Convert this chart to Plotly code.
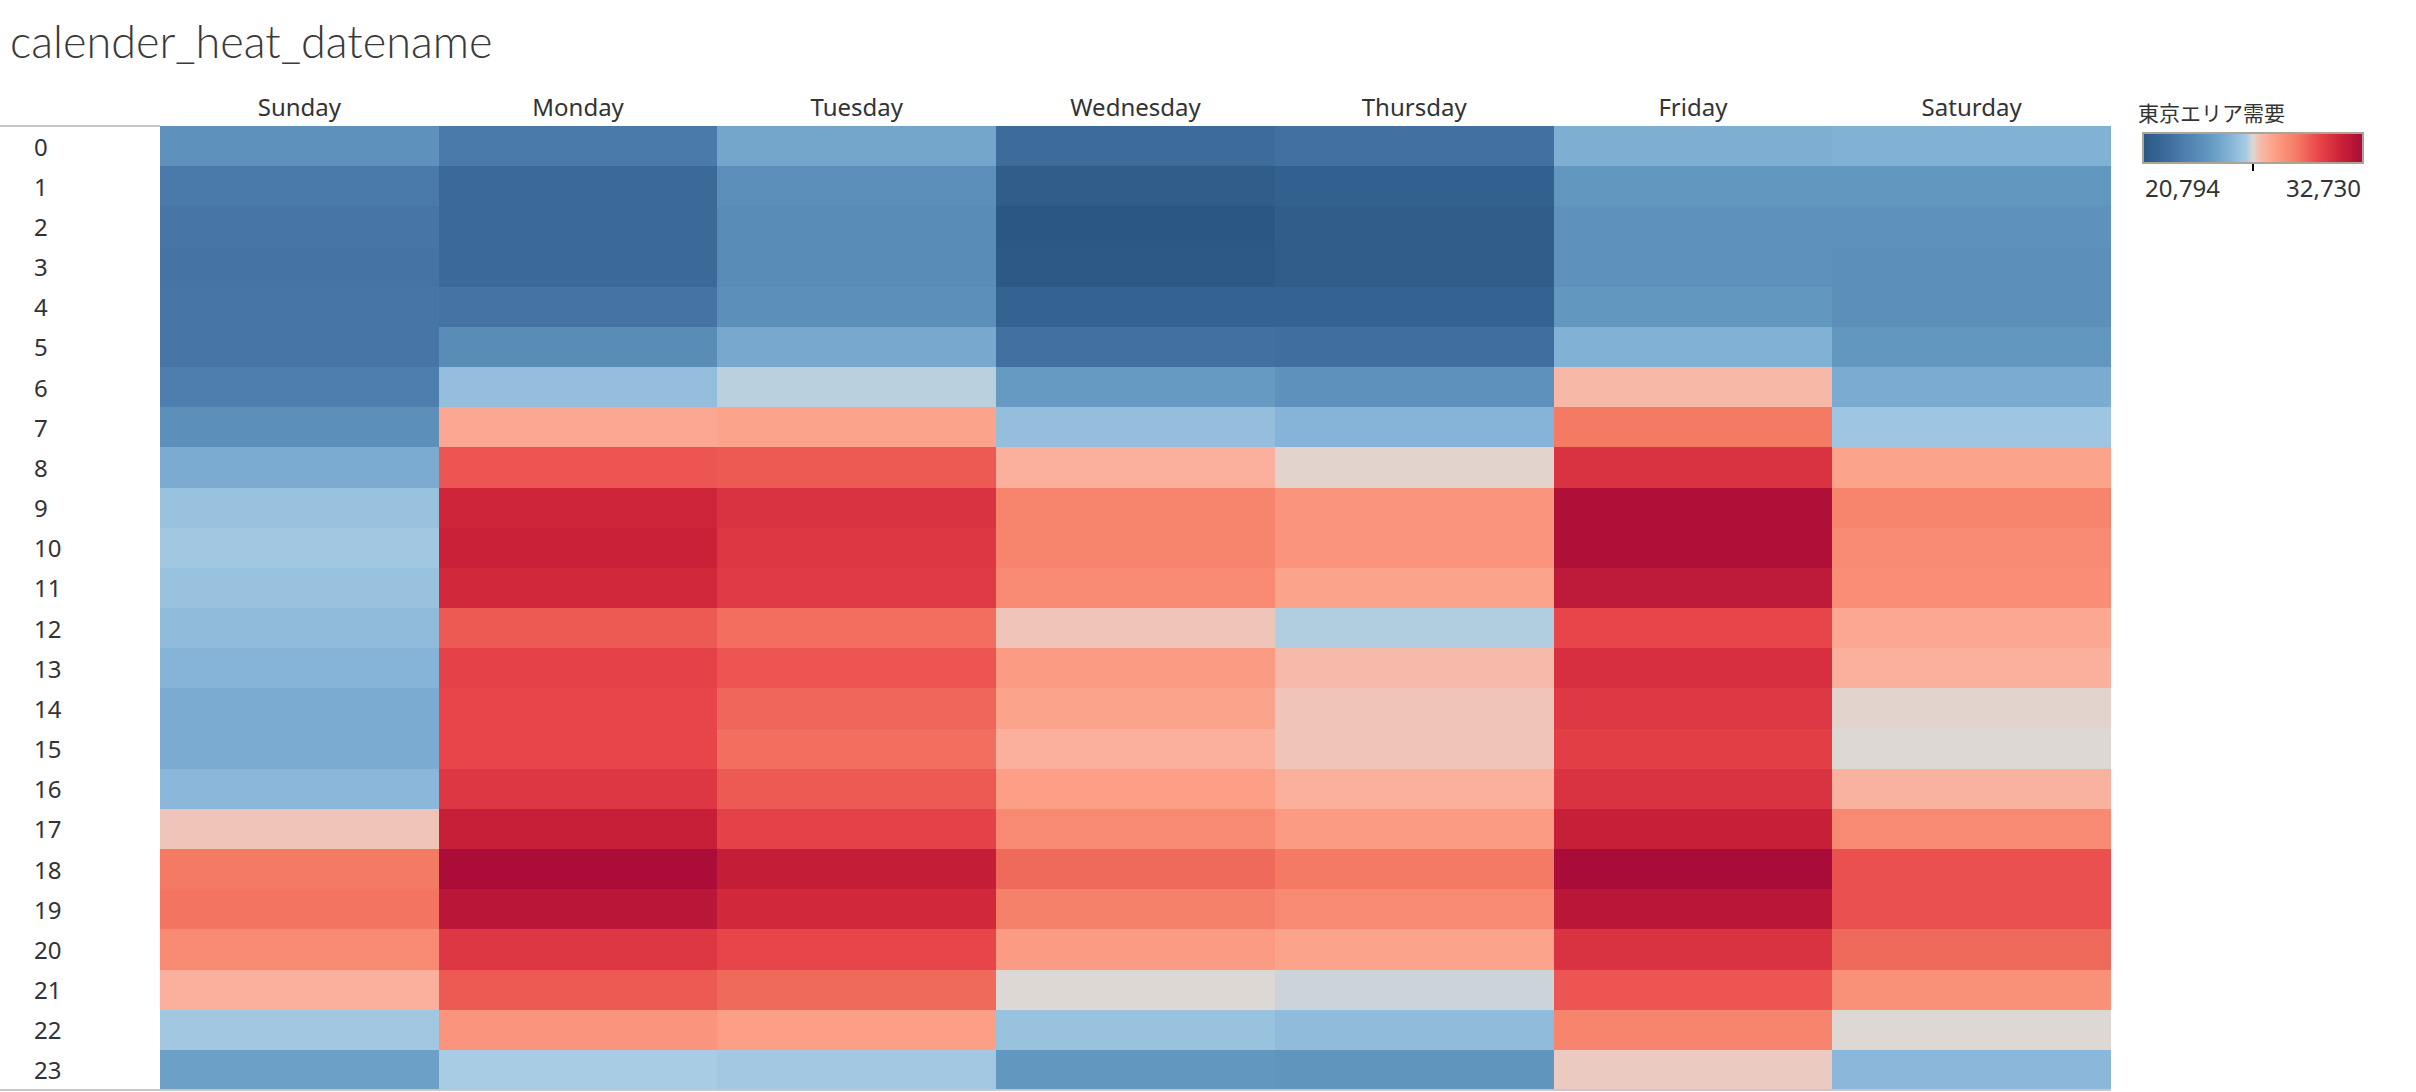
import plotly.graph_objects as go

days = ["Sunday", "Monday", "Tuesday", "Wednesday", "Thursday", "Friday", "Saturday"]
hours = [str(h) for h in range(24)]

sunday = [24136, 22823, 22584, 22465, 22584, 22584, 23062, 24017, 25210, 26046, 26225, 26046,
          25807, 25568, 25210, 25210, 25688, 27001, 29149, 29269, 28672, 27478, 26225, 24733]
monday = [22823, 21868, 21868, 21868, 22465, 23778, 25926, 27717, 29985, 31417, 31536, 31298,
          29865, 30462, 30343, 30343, 30820, 31656, 32670, 32133, 30820, 29865, 28314, 26404]
tuesday = [24972, 23897, 23778, 23778, 24017, 25091, 26523, 27836, 29865, 30940, 30820, 30701,
           29388, 29985, 29627, 29388, 29865, 30462, 31775, 31298, 30343, 29507, 27956, 26285]
wednesday = [21988, 21152, 20794, 20913, 21510, 22346, 24494, 25926, 27478, 28791, 28791, 28672,
             27001, 28075, 27836, 27478, 27956, 28672, 29507, 28910, 28075, 26762, 26046, 24375]
thursday = [22346, 21391, 21152, 21152, 21510, 22226, 24136, 25568, 26822, 28314, 28314, 27836,
            26464, 27180, 27001, 27001, 27478, 28075, 29149, 28672, 27836, 26643, 25807, 24255]
friday = [25330, 24375, 24136, 24136, 24375, 25449, 27239, 29149, 30940, 32491, 32491, 32014,
          30343, 31059, 30761, 30582, 30940, 31656, 32730, 32133, 30940, 29985, 28791, 26941]
saturday = [25449, 24375, 24136, 24017, 24017, 24375, 25210, 26165, 27836, 28791, 28672, 28552,
            27717, 27478, 26822, 26762, 27418, 28672, 30104, 30104, 29507, 28433, 26762, 25688]

columns = [sunday, monday, tuesday, wednesday, thursday, friday, saturday]
z = [[col[i] for col in columns] for i in range(24)]
zmin = min(min(c) for c in columns)
zmax = max(max(c) for c in columns)
zmid = (zmin + zmax) / 2

legend_title = "東京エリア需要"
chart_title = "calender_heat_datename"

colorscale = [
    [0.00, "#2a5783"],
    [0.15, "#4675a6"],
    [0.30, "#6297c0"],
    [0.40, "#86b4d8"],
    [0.47, "#a8cce4"],
    [0.50, "#ded8d4"],
    [0.53, "#f7bcad"],
    [0.60, "#fd9f86"],
    [0.70, "#f47a64"],
    [0.80, "#e8454a"],
    [0.90, "#cb2138"],
    [1.00, "#a90c38"],
]

W, H = 2416, 1092
L, R, T, B = 160, 305, 126, 2
pw = W - L - R
ph = H - T - B

def px_x(p):
    return (p - L) / pw

def px_y(p):
    return (H - B - p) / ph

txt = "#333333"
font_fam = "Noto Sans, Noto Sans CJK JP, sans-serif"

fig = go.Figure(go.Heatmap(
    z=z, x=days, y=hours,
    colorscale=colorscale, zmin=zmin, zmax=zmax,
    xgap=0, ygap=0,
    colorbar=dict(
        orientation="h",
        x=px_x(2143), xanchor="left",
        y=px_y(133), yanchor="top",
        lenmode="pixels", len=220,
        thickness=30,
        xpad=0, ypad=0,
        outlinecolor="#aaa597", outlinewidth=2,
        tickmode="array", tickvals=[zmid], ticktext=[""],
        ticks="outside", ticklen=7, tickwidth=2, tickcolor="#000000",
        showticklabels=False,
    ),
))

annotations = []
for h in hours:
    annotations.append(dict(
        x=px_x(32), xref="paper", y=h, yref="y",
        text=h, showarrow=False, xanchor="left", yanchor="middle",
        font=dict(size=24, color=txt, family=font_fam),
    ))
annotations.append(dict(
    x=px_x(2136), xref="paper", y=px_y(112), yref="paper",
    text=legend_title, showarrow=False, xanchor="left", yanchor="middle",
    font=dict(size=21, color=txt, family="Noto Sans CJK JP, sans-serif"),
))
annotations.append(dict(
    x=px_x(2143), xref="paper", y=px_y(187), yref="paper",
    text=f"{zmin:,}", showarrow=False, xanchor="left", yanchor="middle",
    font=dict(size=24, color=txt, family=font_fam),
))
annotations.append(dict(
    x=px_x(2363), xref="paper", y=px_y(187), yref="paper",
    text=f"{zmax:,}", showarrow=False, xanchor="right", yanchor="middle",
    font=dict(size=24, color=txt, family=font_fam),
))

shapes = [
    dict(type="line", xref="paper", yref="paper", x0=px_x(0), x1=0, y0=1, y1=1,
         line=dict(color="#c8c8c8", width=2)),
    dict(type="line", xref="paper", yref="paper", x0=px_x(0), x1=1, y0=0, y1=0,
         line=dict(color="#c8c8c8", width=2)),
]

fig.update_layout(
    width=W, height=H,
    margin=dict(l=L, r=R, t=T, b=B, pad=0),
    paper_bgcolor="white", plot_bgcolor="white",
    title=dict(text=chart_title, x=10 / W, xanchor="left", xref="container",
               y=1 - 42 / H, yanchor="middle",
               font=dict(size=45, color="#3a3a3a", family="Lato, sans-serif", weight=300)),
    xaxis=dict(side="top", showgrid=False, zeroline=False, ticks="", showline=False,
               ticklabelstandoff=4,
               tickfont=dict(size=24, color=txt, family=font_fam)),
    yaxis=dict(autorange="reversed", showgrid=False, zeroline=False, ticks="",
               showticklabels=False, showline=False, type="category"),
    annotations=annotations,
    shapes=shapes,
)

fig.write_html("out.html", config={"displayModeBar": False},
               post_script="document.body.style.margin='0';document.body.style.overflow='hidden';")
